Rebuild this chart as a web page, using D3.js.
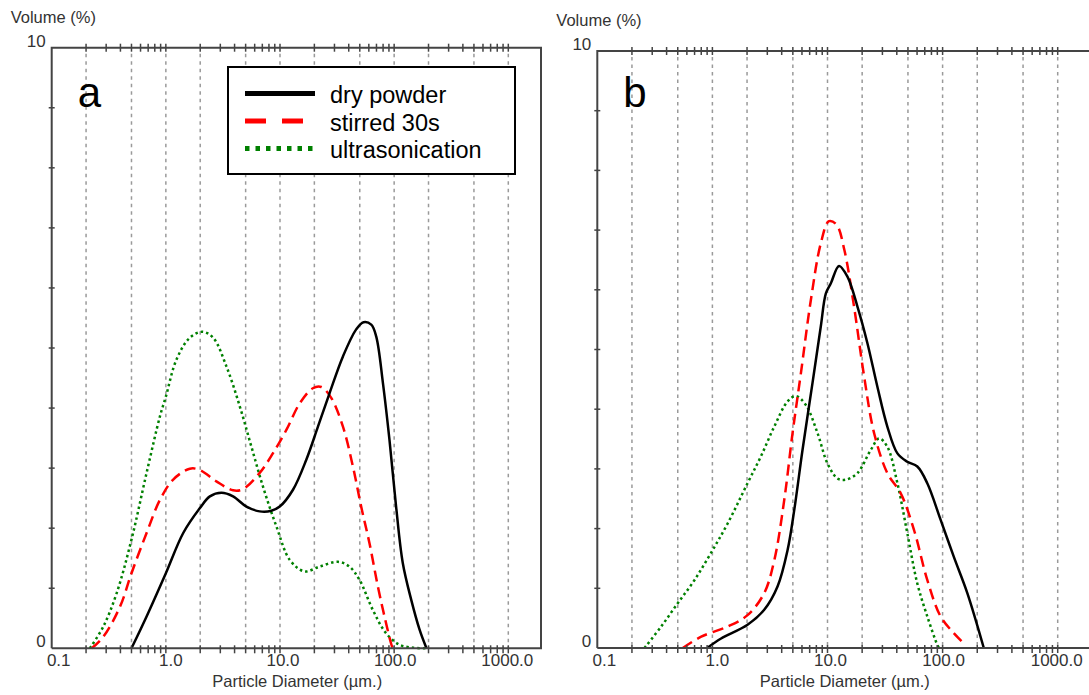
<html>
<head>
  <script src="https://d3js.org/d3.v7.min.js"></script>
  <style>
    body { margin: 0; background: #fff; }
    .frame { stroke: #444; stroke-width: 2; fill: none; }
    .grid { stroke: #9a9a9a; stroke-width: 1.5; stroke-dasharray: 3.5,4; }
    .tk { stroke: #444; stroke-width: 1.5; }
    .lbl { font-family: "Liberation Sans", Arial, sans-serif; font-size: 17px; fill: #333; }
    .ttl { font-family: "Liberation Sans", Arial, sans-serif; font-size: 16.5px; fill: #333; }
    .leg { font-family: "Liberation Sans", Arial, sans-serif; font-size: 23.5px; fill: #000; }
    .letter { font-family: "Liberation Sans", Arial, sans-serif; font-size: 42px; fill: #000; }
  </style>
</head>
<body>
  <svg id="chart" width="1089" height="695"></svg>
  <script>
    // series names and colours
    const seriesNames = ["dry powder", "stirred 30s", "ultrasonication"];
    const seriesColors = ["#000000", "#ff0000", "#008000"];
    const xTickLabels = [0.1, 1, 10, 100, 1000];
    const gridValues = [0.2, 0.5, 1, 2, 5, 10, 20, 50, 100, 200, 500, 1000];
    const yMax = 10;

    // panel a : [diameter um, volume %]
    const aDry = [[0.50,0],[0.678,0.53],[1.0,1.25],[1.42,1.92],[1.98,2.33],[2.43,2.53],[3.07,2.59],[3.88,2.53],
      [5.08,2.36],[6.64,2.28],[8.4,2.29],[9.94,2.36],[13.0,2.64],[17.0,3.14],[21.5,3.69],[27.2,4.25],[35.6,4.86],
      [46.5,5.31],[53.9,5.43],[63,5.39],[69.7,5.19],[79.7,4.42],[91,3.47],[104,2.36],[119,1.42],[141,0.81],[167,0.31],[192,0]];
    const aStirred = [[0.224,0],[0.283,0.19],[0.396,0.69],[0.50,1.25],[0.678,1.92],[0.887,2.47],[1.16,2.81],[1.62,2.99],
      [1.98,2.97],[2.77,2.78],[3.88,2.63],[4.74,2.65],[6.64,2.92],[8.69,3.25],[11.4,3.64],[14.9,4.08],[19.4,4.33],
      [23.0,4.35],[28.1,4.17],[35.6,3.69],[43.5,3.03],[51.4,2.36],[60.8,1.75],[72,1.03],[82.3,0.53],[94,0.08],[97,0]];
    const aUltra = [[0.216,0],[0.283,0.36],[0.371,0.92],[0.50,1.81],[0.678,2.92],[0.887,3.86],[1.0,4.19],[1.24,4.81],
      [1.62,5.17],[2.09,5.27],[2.6,5.17],[3.4,4.69],[4.44,4.03],[5.61,3.36],[7.1,2.69],[9.3,2.03],[12.2,1.47],[16.4,1.28],
      [22.2,1.36],[32.2,1.44],[40.6,1.36],[49.7,1.14],[65,0.64],[85,0.25],[111,0.06],[146,0.01],[192,0]];

    // panel b
    const bDry = [[0.90,0],[1.19,0.16],[2.02,0.39],[2.82,0.64],[3.68,1.03],[4.5,1.64],[5.14,2.31],[6.07,3.32],[7.41,4.44],
      [8.75,5.39],[9.68,5.94],[10.7,6.11],[12.6,6.40],[14.9,6.22],[18.2,5.72],[22.2,5.11],[27.1,4.38],[33.1,3.71],
      [40.5,3.26],[49.4,3.12],[60.3,3.04],[73.6,2.76],[96,2.15],[125,1.53],[164,0.92],[228,0]];
    const bStirred = [[0.553,0],[0.80,0.19],[1.36,0.36],[2.02,0.55],[2.82,0.92],[3.45,1.47],[4.21,2.48],[4.97,3.6],
      [5.87,4.6],[7.17,5.83],[8.75,6.78],[10.3,7.15],[12.0,7.09],[14.0,6.67],[17.0,5.72],[20.8,4.55],[25.4,3.6],
      [33.1,2.93],[43.3,2.59],[56.4,1.98],[73.6,1.14],[96,0.53],[125,0.25],[158,0.05]];
    const bUltra = [[0.257,0],[0.359,0.36],[0.50,0.75],[0.70,1.14],[0.97,1.59],[1.36,2.09],[2.02,2.76],[2.64,3.21],
      [3.45,3.71],[4.5,4.13],[5.31,4.22],[6.49,4.07],[8.19,3.6],[10,3.09],[12.2,2.84],[14.4,2.82],[18.2,2.93],
      [23.8,3.32],[28.1,3.51],[33.1,3.37],[40.5,2.76],[49.4,1.92],[60.3,1.08],[73.6,0.53],[90,0.05],[93,0]];

    const svg = d3.select("#chart");

    const lineWidth = [2.5, 2.5, 2.5];
    const lineDash = [null, "11,6", "2.5,3"];

    // all the 1..9 multiples per decade for the small ticks
    const minorTicks = [];
    [0.1, 1, 10, 100].forEach(dec => {
      for (let k = 2; k <= 10; k++) minorTicks.push(+(dec * k).toPrecision(3));
    });

    const panels = [
      { letter: "a", data: [aDry, aStirred, aUltra], x0: 51.7, x1000: 508.3, right: 541, top: 47.7, bottom: 648.3, legend: true },
      { letter: "b", data: [bDry, bStirred, bUltra], x0: 597.3, x1000: 1057.7, right: 1092, top: 51, bottom: 648, legend: false }
    ];

    panels.forEach(p => {
      const g = svg.append("g");
      const x = d3.scaleLog().domain([0.1, 1000]).range([p.x0, p.x1000]);
      const y = d3.scaleLinear().domain([0, yMax]).range([p.bottom, p.top]);

      // gridlines
      g.selectAll("line.grid").data(gridValues).join("line")
        .attr("class", "grid")
        .attr("x1", d => x(d)).attr("x2", d => x(d))
        .attr("y1", p.top + 6).attr("y2", p.bottom);

      // curves, dry powder drawn last so it sits on top
      const line = d3.line().x(d => x(d[0])).y(d => Math.min(y(d[1]), p.bottom))
        .curve(d3.curveCatmullRom.alpha(0.5));
      [2, 1, 0].forEach(i => {
        g.append("path")
          .datum(p.data[i])
          .attr("d", line)
          .attr("fill", "none")
          .attr("stroke", seriesColors[i])
          .attr("stroke-width", lineWidth[i])
          .attr("stroke-dasharray", lineDash[i]);
      });

      // frame
      g.append("path").attr("class", "frame")
        .attr("d", `M${p.x0},${p.bottom}V${p.top}H${p.right}V${p.bottom}H${p.x0}`);

      // ticks on top and bottom axes
      g.selectAll("line.tt").data(minorTicks).join("line")
        .attr("class", "tk")
        .attr("x1", d => x(d)).attr("x2", d => x(d))
        .attr("y1", p.top - 4).attr("y2", p.top + 4);
      g.selectAll("line.bt").data(minorTicks).join("line")
        .attr("class", "tk")
        .attr("x1", d => x(d)).attr("x2", d => x(d))
        .attr("y1", p.bottom - 3).attr("y2", p.bottom + 5);

      // left axis ticks
      g.selectAll("line.lt").data(d3.range(1, yMax)).join("line")
        .attr("class", "tk")
        .attr("x1", p.x0 - 3).attr("x2", p.x0 + 3)
        .attr("y1", d => y(d)).attr("y2", d => y(d));

      // x tick labels
      g.selectAll("text.xl").data(xTickLabels).join("text")
        .attr("class", "lbl")
        .attr("x", (d, i) => x(d) + 7 - 2 * i)
        .attr("y", p.bottom + 18)
        .attr("text-anchor", "middle")
        .text(d => d.toFixed(1));

      // y labels 0 and 10
      g.selectAll("text.yl").data([0, yMax]).join("text")
        .attr("class", "lbl")
        .attr("x", p.x0 - 6)
        .attr("y", d => y(d) - 1)
        .attr("text-anchor", "end")
        .text(d => d);

      g.append("text").attr("class", "ttl")
        .attr("x", p.x0 - 41).attr("y", p.top - 25)
        .text("Volume (%)");

      g.append("text").attr("class", "ttl")
        .attr("x", (p.x0 + x(2000)) / 2).attr("y", p.bottom + 39)
        .attr("text-anchor", "middle")
        .text("Particle Diameter (µm.)");

      g.append("text").attr("class", "letter")
        .attr("x", p.x0 + 26).attr("y", 107)
        .text(p.letter);

      if (p.legend) {
        const lg = g.append("g");
        lg.append("rect")
          .attr("x", 228).attr("y", 67).attr("width", 287).attr("height", 107)
          .attr("fill", "#fff").attr("stroke", "#000").attr("stroke-width", 2);
        const legDash = [null, "21,16", "4.5,6"];
        seriesNames.forEach((name, i) => {
          const ly = 93.5 + i * 27.5;
          lg.append("line")
            .attr("x1", 245).attr("x2", 315)
            .attr("y1", ly).attr("y2", ly)
            .attr("stroke", seriesColors[i])
            .attr("stroke-width", 5)
            .attr("stroke-dasharray", legDash[i]);
          lg.append("text").attr("class", "leg")
            .attr("x", 330).attr("y", ly + 9.5)
            .text(name);
        });
      }
    });
  </script>
</body>
</html>
